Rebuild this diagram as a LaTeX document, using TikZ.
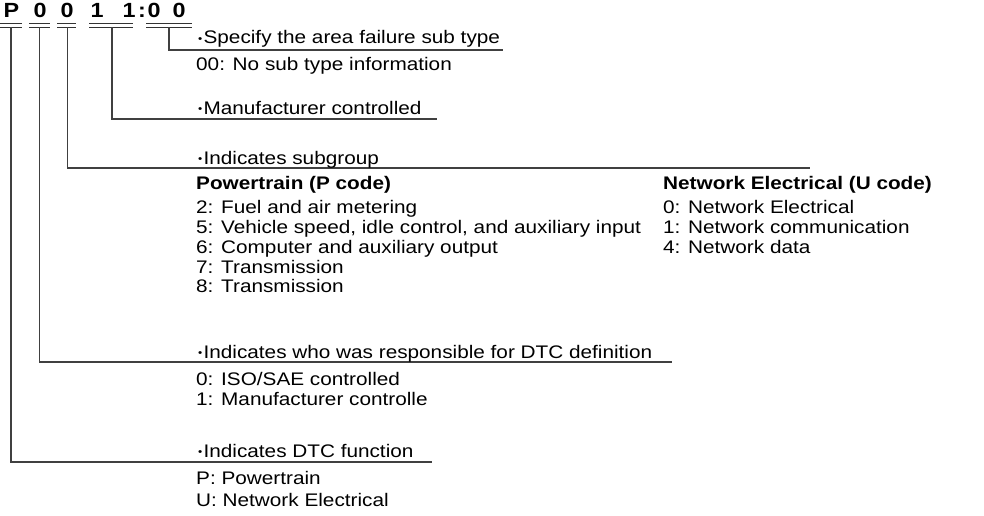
\documentclass[tikz,border=0pt]{standalone}
\usepackage{fontspec}
\setmainfont{Liberation Sans}[FakeStretch=1.14]
\newcommand{\bul}{\raisebox{1.6pt}{\fontsize{10.5}{10.5}\selectfont •}\hspace{1.2pt}}
\begin{document}
\begin{tikzpicture}[x=1pt,y=-1pt,
  txt/.style={anchor=base west,inner sep=0pt,font=\fontsize{18.2}{20}\selectfont},
  hd/.style={txt,font=\fontsize{18.2}{20}\selectfont\bfseries},
  code/.style={anchor=base,inner sep=0pt,font=\fontsize{20.5}{22}\selectfont\bfseries},
  uline/.style={line width=1.1pt,draw=black!80},
  conn/.style={line width=1.3pt,draw=black!75}]
\useasboundingbox (0,0) rectangle (984,516);
% header code characters
\node[code] (c1) at (11.5,18) {P};
\node[code] (c2) at (40,18) {0};
\node[code] (c3) at (67,18) {0};
\node[code] (c4) at (97,18) {1};
\node[code] (c5) at (129,18) {1};
\node[code] (c6) at (142,18) {:};
\node[code] (c7) at (154,18) {0};
\node[code] (c8) at (179,18) {0};
% double underlines
\foreach \a/\b in {0/22, 29/50, 57/76, 89/133, 146/192}{
  \draw[uline] (\a,23.5) -- (\b,23.5);
  \draw[uline] (\a,27.5) -- (\b,27.5);
}
% connector start points (under the double lines)
\coordinate (sP) at (11,27.5);
\coordinate (s0a) at (39.5,27.5);
\coordinate (s0b) at (67.5,27.5);
\coordinate (s11) at (112,27.5);
\coordinate (s00) at (169,27.5);
% connector end points
\coordinate (e00) at (503,50);
\coordinate (e11) at (437,119);
\coordinate (e0b) at (810,168);
\coordinate (e0a) at (672,362);
\coordinate (eP) at (432,462);
\draw[conn] (s00) |- (e00);
\draw[conn] (s11) |- (e11);
\draw[conn] (s0b) |- (e0b);
\draw[conn] (s0a) |- (e0a);
\draw[conn] (sP) |- (eP);
% texts
\node[txt] (t1) at (198,44) {\bul Specify the area failure sub type};
\node[txt] (t1a) at (196,71) {00: No sub type information};
\node[txt] (t2) at (198,114) {\bul Manufacturer controlled};
\node[txt] (t3) at (198,164) {\bul Indicates subgroup};
\node[hd] (p0) at (196,189) {Powertrain (P code)};
\node[txt] (p1) at (196,213) {2: Fuel and air metering};
\node[txt] (p2) at (196,233) {5: Vehicle speed, idle control, and auxiliary input};
\node[txt] (p3) at (196,253) {6: Computer and auxiliary output};
\node[txt] (p4) at (196,273) {7: Transmission};
\node[txt] (p5) at (196,292) {8: Transmission};
\node[hd] (u0) at (663,189) {Network Electrical (U code)};
\node[txt] (u1) at (663,213) {0: Network Electrical};
\node[txt] (u2) at (663,233) {1: Network communication};
\node[txt] (u3) at (663,253) {4: Network data};
\node[txt] (t4) at (198,358) {\bul Indicates who was responsible for DTC definition};
\node[txt] (t4a) at (196,385) {0: ISO/SAE controlled};
\node[txt] (t4b) at (196,405) {1: Manufacturer controlle};
\node[txt] (t5) at (198,457) {\bul Indicates DTC function};
\node[txt] (t5a) at (196,484) {P: Powertrain};
\node[txt] (t5b) at (196,506) {U: Network Electrical};
\end{tikzpicture}
\end{document}
